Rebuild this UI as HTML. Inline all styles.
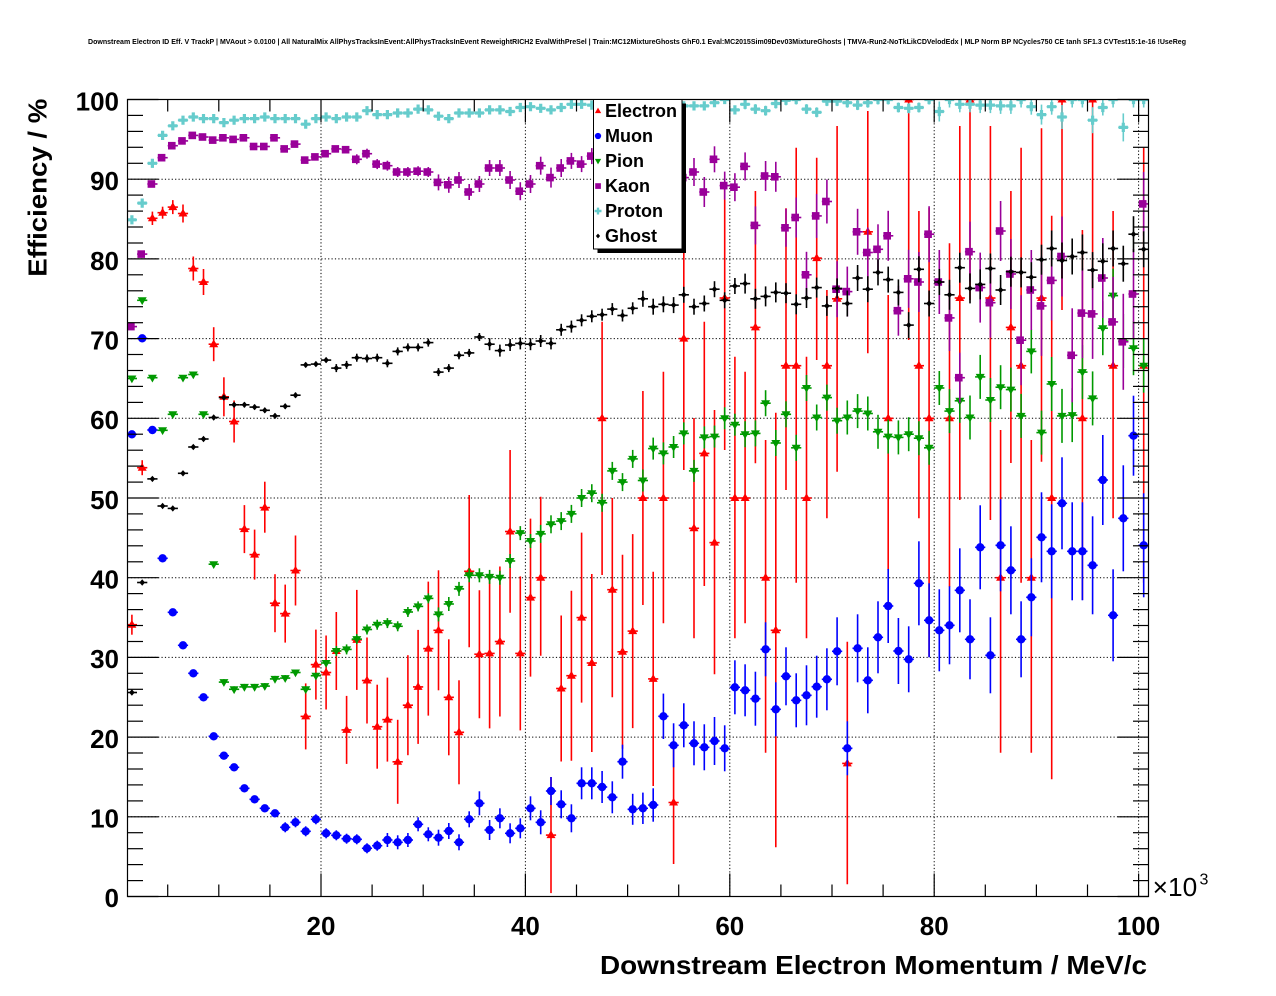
<!DOCTYPE html>
<html><head><meta charset="utf-8">
<style>
html,body{margin:0;padding:0;background:#fff;}
svg{display:block;}
text{font-family:"Liberation Sans",Arial,sans-serif;}
</style></head>
<body>
<svg id="s" width="1276" height="996" viewBox="0 0 1276 996" xmlns="http://www.w3.org/2000/svg">
<defs><clipPath id="cp"><rect x="127.5" y="99.5" width="1021" height="797"/></clipPath></defs>
<rect width="1276" height="996" fill="#fff"/>
<text x="637" y="44" font-size="7.5" font-weight="bold" text-anchor="middle" textLength="1098" lengthAdjust="spacingAndGlyphs">Downstream Electron ID Eff. V TrackP | MVAout &gt; 0.0100 | All NaturalMix AllPhysTracksInEvent:AllPhysTracksInEvent ReweightRICH2 EvalWithPreSel | Train:MC12MixtureGhosts GhF0.1 Eval:MC2015Sim09Dev03MixtureGhosts | TMVA-Run2-NoTkLikCDVelodEdx | MLP Norm BP NCycles750 CE tanh SF1.3 CVTest15:1e-16 !UseReg</text>
<g id="grid"></g>
<g id="data" clip-path="url(#cp)"></g>
<rect x="127.5" y="99.5" width="1021" height="797" fill="none" stroke="#000" stroke-width="1.2"/>
<g id="ticks"></g>
<g font-size="26" font-weight="bold" text-anchor="end">
<text x="119" y="907">0</text>
<text x="119" y="827.5">10</text>
<text x="119" y="748">20</text>
<text x="119" y="668">30</text>
<text x="119" y="588.5">40</text>
<text x="119" y="509">50</text>
<text x="119" y="429">60</text>
<text x="119" y="349.5">70</text>
<text x="119" y="270">80</text>
<text x="119" y="190">90</text>
<text x="119" y="110.5">100</text>
</g>
<g font-size="26" font-weight="bold" text-anchor="middle">
<text x="321" y="935">20</text>
<text x="525.4" y="935">40</text>
<text x="729.8" y="935">60</text>
<text x="934.2" y="935">80</text>
<text x="1138.6" y="935">100</text>
</g>
<text x="1152.7" y="896" font-size="26" textLength="44.6" lengthAdjust="spacingAndGlyphs">×10</text>
<text x="1199.5" y="884.5" font-size="16">3</text>
<text x="600" y="974" font-size="26" font-weight="bold" textLength="547" lengthAdjust="spacingAndGlyphs">Downstream Electron Momentum / MeV/c</text>
<text transform="translate(46.5,276.7) rotate(-90)" x="0" y="0" font-size="26" font-weight="bold" textLength="178" lengthAdjust="spacingAndGlyphs">Efficiency / %</text>
<!-- legend -->
<rect x="597.5" y="103.5" width="88.5" height="149.5" fill="#000"/>
<rect x="593.5" y="99.5" width="88.5" height="149.5" fill="#fff" stroke="#000" stroke-width="1"/>
<g id="leg"></g>
<g font-size="18" font-weight="bold">
<text x="605" y="117">Electron</text>
<text x="605" y="142">Muon</text>
<text x="605" y="167">Pion</text>
<text x="605" y="192">Kaon</text>
<text x="605" y="217">Proton</text>
<text x="605" y="242">Ghost</text>
</g>
</svg>
<script>
(function(){
var X0=116.6,XS=10.22,Y0=896.5,YS=7.97,L=127.5,R=1148.5,T=99.5,B=896.5;
function xb(b){return X0+XS*(b+0.5);}
function ye(e){return Y0-YS*e;}
function f(v){return (Math.round(v*10)/10);}
var g='';
for(var v=20;v<=100;v+=20){var x=X0+XS*v;g+='<line x1="'+f(x)+'" y1="'+T+'" x2="'+f(x)+'" y2="'+B+'" stroke="#000" stroke-width="1" stroke-dasharray="1.2,2.2"/>';}
for(var v=10;v<=90;v+=10){var y=ye(v);g+='<line x1="'+L+'" y1="'+f(y)+'" x2="'+R+'" y2="'+f(y)+'" stroke="#000" stroke-width="1" stroke-dasharray="1.2,2.2"/>';}
document.getElementById('grid').innerHTML=g;
var t='';
for(var v=0;v<=100;v+=2){var y=ye(v);var len=(v%10==0)?31:15.5;
 t+='<line x1="'+L+'" y1="'+f(y)+'" x2="'+(L+len)+'" y2="'+f(y)+'" stroke="#000" stroke-width="1.2"/>';
 t+='<line x1="'+R+'" y1="'+f(y)+'" x2="'+(R-len)+'" y2="'+f(y)+'" stroke="#000" stroke-width="1.2"/>';}
for(var v=5;v<=100;v+=5){var x=X0+XS*v;var len=(v%20==0)?23:12;
 t+='<line x1="'+f(x)+'" y1="'+B+'" x2="'+f(x)+'" y2="'+(B-len)+'" stroke="#000" stroke-width="1.2"/>';
 t+='<line x1="'+f(x)+'" y1="'+T+'" x2="'+f(x)+'" y2="'+(T+len)+'" stroke="#000" stroke-width="1.2"/>';}
document.getElementById('ticks').innerHTML=t;

function mk(type,cx,cy,col,s){
 s=s||1;
 if(type=='tu'){return '<path d="M'+f(cx)+','+f(cy-4.8*s)+' L'+f(cx+4.5*s)+','+f(cy+3*s)+' L'+f(cx-4.5*s)+','+f(cy+3*s)+' Z" fill="'+col+'"/>';}
 if(type=='td'){return '<path d="M'+f(cx)+','+f(cy+4.8*s)+' L'+f(cx+4.5*s)+','+f(cy-3*s)+' L'+f(cx-4.5*s)+','+f(cy-3*s)+' Z" fill="'+col+'"/>';}
 if(type=='c'){return '<circle cx="'+f(cx)+'" cy="'+f(cy)+'" r="'+(4.2*s)+'" fill="'+col+'"/>';}
 if(type=='sq'){var h=3.8*s;return '<rect x="'+f(cx-1-h)+'" y="'+f(cy-h)+'" width="'+f(2*h)+'" height="'+f(2*h)+'" fill="'+col+'"/>';}
 if(type=='cr'){var a=4.6*s,w=1.6*s;return '<path d="M'+f(cx-w)+','+f(cy-a)+' H'+f(cx+w)+' V'+f(cy-w)+' H'+f(cx+a)+' V'+f(cy+w)+' H'+f(cx+w)+' V'+f(cy+a)+' H'+f(cx-w)+' V'+f(cy+w)+' H'+f(cx-a)+' V'+f(cy-w)+' H'+f(cx-w)+' Z" fill="'+col+'"/>';}
 if(type=='d'){return '<path d="M'+f(cx)+','+f(cy-3.2*s)+' L'+f(cx+2.8*s)+','+f(cy)+' L'+f(cx)+','+f(cy+3.2*s)+' L'+f(cx-2.8*s)+','+f(cy)+' Z" fill="'+col+'"/>';}
 return '';
}
function bar(cx,cy,top,bot,col,w){
 w=w||1.6;
 var s='<line x1="'+f(cx-5.1)+'" y1="'+f(cy)+'" x2="'+f(cx+5.1)+'" y2="'+f(cy)+'" stroke="'+col+'" stroke-width="'+w+'"/>';
 if(bot-top>1)s+='<line x1="'+f(cx)+'" y1="'+f(top)+'" x2="'+f(cx)+'" y2="'+f(bot)+'" stroke="'+col+'" stroke-width="'+w+'"/>';
 return s;
}
function series(effs,errs,type,col,isPix){
 var s='',m='';
 for(var i=0;i<effs.length;i++){
  var e=effs[i];if(e===null||e===undefined)continue;
  var b=i+1,cx=xb(b),cy=isPix?e:ye(e);
  var er=errs[i];var top=cy-er,bot=cy+er;
  if(top<T)top=T;
  s+=bar(cx,cy,top,bot,col);
  m+=mk(type,cx,cy,col);
 }
 return s+m;
}
var out='';
var EL={1:[34.1,10],2:[53.8,7.5],3:[85.1,6.7],4:[85.8,6],5:[86.5,7],6:[85.7,9],7:[78.8,12],8:[77.1,13],9:[69.3,17],10:[62.7,19.5],11:[59.6,21],12:[46.1,24],13:[42.9,25],14:[48.8,481.7,532.7],15:[36.8,29],16:[35.5,29],17:[40.9,35],18:[22.6,33],19:[29.1,35],20:[28.1,37],21:[30.8,39],22:[20.9,34],23:[32.2,50],24:[27.1,43],25:[21.3,42],26:[22.2,42],27:[16.9,42],28:[24.0,50],29:[26.3,57],30:[31.1,67],31:[33.4,60],32:[25.0,58],33:[20.6,52],34:[40.8,495,647.3],35:[30.4,64],36:[30.5,75],37:[32.0,75],38:[45.8,450,612.7],39:[30.5,77],40:[37.5,79],41:[40.0,496.7,655.7],42:[7.7,58],43:[26.1,73],44:[27.7,85],45:[35.0,85],46:[29.3,89],47:[60.0,321.7,575],48:[38.5,498,697.3],49:[30.7,97],50:[33.3,97],51:[50,391,605],52:[27.3,571.7,786],53:[50,371.7,623.3],54:[11.8,748.3,864],55:[70,250,470],56:[46.2,418,638.3],57:[55.6,321.7,586],58:[44.4,410,674.3],59:[75.1,188,450],60:[50,356.7,638.3],61:[50,371.7,623.3],62:[71.4,191,463.3],63:[40,440,752.7],64:[33.4,412.7,847.3],65:[66.6,208.3,490],66:[66.6,147.7,582.7],67:[50,356.7,638.3],68:[80.1,157.7,360],69:[66.6,290,518.3],70:[75,126,471.7],71:[16.7,641.7,884.3],73:[83.4,111,353.3],75:[60,295,570],77:[100,99.5,340],78:[66.6,211,518.3],79:[60,207.7,656.7],81:[60,243.3,586.7],82:[75.1,126,500],83:[100,99.5,300],85:[75.1,126,520],86:[40,430,752.7],87:[71.4,191,463],88:[66.6,147.7,582.7],89:[40,440,752.7],90:[75.1,128.3,461.7],91:[50,215.7,779.3],92:[100,99.5,310],94:[60,230,600],95:[100,99.5,290],97:[66.6,211,518.3],100:[66.6,147.7,582.7]};
var es='',em='';
for(var k in EL){var d=EL[k];var b=+k,cx=xb(b),cy=ye(d[0]);var top,bot;
 if(d.length==2){top=cy-d[1];bot=cy+d[1];}else{top=d[1];bot=d[2];}
 if(top<T)top=T;
 es+=bar(cx,cy,top,bot,'#ff0000');em+=mk('tu',cx,cy,'#ff0000');}
out+=es+em;
var MU=[434.3,338.3,430,558.3,612.3,645.3,673.3,697.3,736.3,755.7,
767.3,788.3,799.3,808.3,813.3,827.3,822.3,831.3,819.3,833.3,
835.3,838.7,839.3,848.3,845.7,840,842.3,840,824.3,834.3,
837.7,831,842.3,819.3,803.3,830,818.3,833.3,828.3,808.3,
822.3,791,804.3,818.3,783.3,783.3,787,797.3,761.7,809.3,
808.3,805,716.3,745.3,725.3,743.3,747.3,741,748.3,687.3,
690.3,698.7,649.3,709.3,676.3,700.3,695.3,686.7,679.3,651.3,
748.3,648.3,680.3,637.3,606,651,659.3,583.3,620.3,630.3,
625.3,590.3,639.3,547.3,655.3,545.3,570.3,639.3,597.3,537.3,
551.3,503.3,551.3,551.3,565.3,480,615.3,518.3,435.7,545.3];
var MUE=[1,1,1,1,1,1.5,1.5,1.5,1.5,1.5,
3,3,3,3,3,5,5,5,5,5,
5,5,5,5,5,7,7,7,7,7,
8,8,8,8,12,10,10,10,10,12,
12,14,14,14,16,16,16,16,17,15.5,
15.7,16.7,22.7,22,22,22,23,24,23,27,
26,27,27,27,29,27,30,31,31,34,
27,34,33,36,37,33,33,42,37,41,
39,42,40,42,38,46,44,38,39,45,
47,46,49,49,49,45,46,53,40,52];
out+=series(MU,MUE,'c','#0000ff',true);
var PI=[65.0,74.8,65.1,58.5,60.5,65.1,65.5,60.5,41.7,26.9,
26.0,26.3,26.3,26.4,27.3,27.4,28.1,26.0,27.7,29.3,
30.8,31.0,32.3,33.5,34.1,34.3,33.9,35.7,36.4,37.4,
35.4,36.7,38.6,40.3,40.3,40.1,40.0,42.1,45.6,44.6,
45.5,46.7,47.1,48.0,50.0,50.6,49.4,53.4,52.0,54.9,
52.2,56.2,55.6,56.4,58.1,53.4,57.6,57.7,60.0,59.2,
58.0,58.1,61.9,56.9,60.5,56.3,63.8,60.1,62.6,59.7,
60.1,60.9,60.6,58.3,57.7,57.6,58.0,57.5,56.3,63.8,
60.9,62.2,60.1,65.2,62.3,63.9,63.6,60.3,68.4,58.2,
64.3,60.3,60.4,65.8,62.5,71.3,75.4,69.7,68.8,66.6];
var PIE=[];for(var i=1;i<=100;i++){var e;
 if(i<=8)e=1.5;else if(i==9)e=2;else if(i<=20)e=3;else if(i<=30)e=5;else if(i<=40)e=7;else if(i<=50)e=9;else if(i<=60)e=11;else if(i<=70)e=13;else if(i<=80)e=17;else if(i<=90)e=22;else e=27;
 PIE.push(e);}
out+=series(PI,PIE,'td','#009900');
var KA=[71.5,80.6,89.4,92.7,94.2,94.8,95.5,95.3,94.9,95.2,
95.0,95.2,94.1,94.1,95.2,93.8,94.4,92.4,92.8,93.2,
93.8,93.7,92.5,93.2,91.9,91.7,90.9,90.9,91.0,90.9,
89.6,89.3,89.9,88.4,89.4,91.4,91.4,89.9,88.5,89.4,
91.7,90.2,91.4,92.3,91.9,92.9,92.5,92.0,91.5,91.0,
90.5,90.0,89.8,90.5,90.2,90.9,88.4,92.5,89.2,89.0,
91.6,84.2,90.4,90.3,83.9,85.2,78.0,85.4,87.2,76.2,
75.9,83.4,80.8,81.2,82.9,73.5,77.5,77.1,83.1,77.1,
72.6,65.1,80.9,76.4,74.5,83.5,78.1,69.8,76.1,74.1,
77.3,80.3,67.9,73.2,73.1,77.6,72.1,69.6,75.6,86.9];
var KAE=[1,1,1,1,1.5,1.5,1.5,1.5,1.5,1.5,1.5,1.5,1.5,1.5,1.5,3,3,3,3,3,3,3,5,5,5,5,5,5,5,5,
8,8,8,8,8,8,8,9,9,9,9,10,9,8,8,8,9,9,10,10,11,11,12,12,13,
14,15,13,14,14,14,19,15,15,19,20,23,22,22,28,25,23,25,25,25,25,29,30,28,32,33,25,30,35,35,30,35,45,40,50,40,40,47,45,45,40,45,48,45,32];
out+=series(KA,KAE,'sq','#990099');
var PR=[84.9,87.0,92.0,95.5,96.7,97.4,97.8,97.6,97.6,97.1,
97.4,97.6,97.6,97.8,97.6,97.6,97.6,96.9,97.6,97.8,
97.6,97.8,97.8,98.6,98.1,98.1,98.3,98.3,98.8,98.7,
97.9,97.6,98.3,98.3,98.3,98.7,98.7,98.5,99.0,99.1,
98.9,98.7,99.0,99.4,99.4,99.3,99.2,99.3,99.2,99.3,
99.2,99.2,99.2,99.2,99.2,99.2,99.2,99.6,100,98.7,
99.4,98.8,98.6,99.5,99.9,100,98.8,98.4,99.8,99.8,
99.6,99.3,99.6,100,100,99.0,98.9,99.0,100,98.5,
100,99.4,99.4,99.3,99.3,99.2,99.2,100,99.1,98.1,
99.1,97.8,100,100,97.4,99.0,100,96.5,100,100];
var PRE=[];for(var i=1;i<=100;i++){var e;
 if(i<=40)e=1;else if(i<=60)e=3;else if(i<=79)e=5;else e=8;
 if(i==80||i==90)e=10;if(i==92)e=12;if(i==95)e=13;if(i==98)e=14;
 PRE.push(e);}
out+=series(PR,PRE,'cr','#66cccc');
var GH=[25.6,39.4,52.4,49.0,48.7,53.1,56.4,57.4,60.1,62.6,
61.7,61.7,61.4,61.0,60.3,61.5,62.9,66.7,66.8,67.3,
66.3,66.7,67.6,67.5,67.6,66.9,68.4,68.9,68.9,69.5,
65.8,66.3,67.9,68.2,70.2,69.3,68.5,69.2,69.4,69.3,
69.7,69.4,71.1,71.5,72.3,72.8,73.0,73.7,72.9,73.8,
75.0,74.0,74.3,74.2,75.5,74.0,74.4,76.2,74.8,76.6,
76.9,75.0,75.3,75.8,75.7,74.3,75.1,76.4,74.1,76.3,
74.4,77.6,76.2,78.3,77.4,75.8,71.7,78.7,74.4,77.1,
75.5,78.9,76.3,76.8,78.8,76.1,78.4,78.3,77.7,79.9,
81.3,79.8,80.3,80.8,78.6,79.7,81.3,79.4,83.1,81.2];
var GHE=[];for(var i=1;i<=100;i++){var e;
 if(i<=10)e=1.5;else if(i<=20)e=2.5;else if(i<=35)e=4;else if(i<=50)e=6;else if(i<=60)e=8;else if(i<=70)e=10;else if(i<=80)e=13;else if(i<=90)e=15;else e=18;
 GHE.push(e);}
out+=series(GH,GHE,'d','#000000');
document.getElementById('data').innerHTML=out;
var lg='';
lg+=mk('tu',598,111,'#ff0000',0.7);
lg+=mk('c',598,136,'#0000ff',0.75);
lg+=mk('td',598,161,'#009900',0.7);
lg+=mk('sq',599,186,'#990099',0.75);
lg+=mk('cr',598,211,'#66cccc',0.75);
lg+=mk('d',598,236,'#000000',0.75);
document.getElementById('leg').innerHTML=lg;
})();
</script>
</body></html>
